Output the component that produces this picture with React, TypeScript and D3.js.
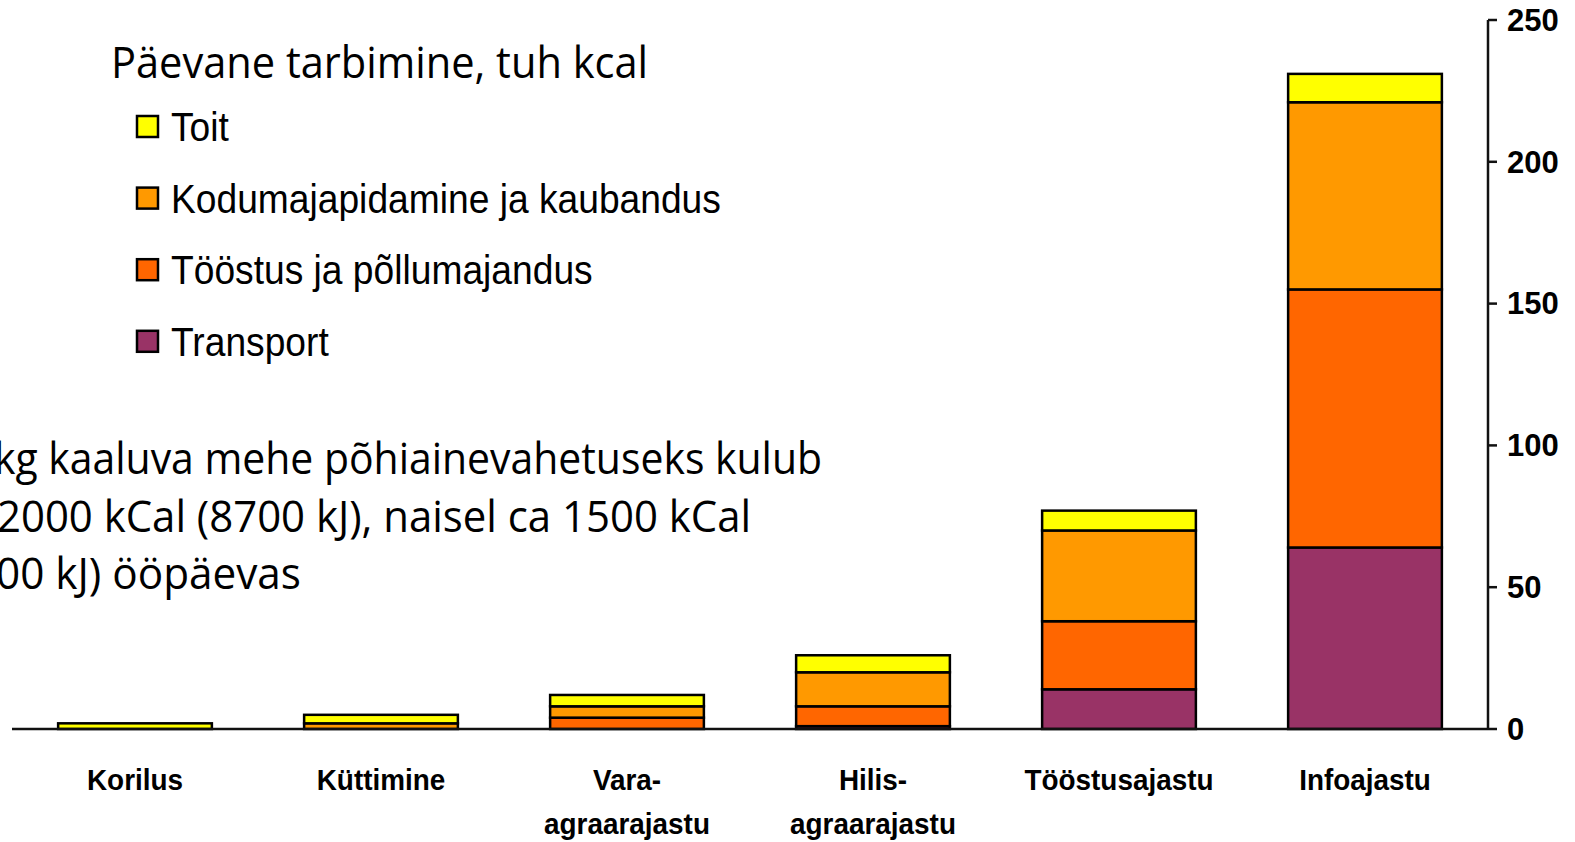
import React, { useRef, useEffect, useCallback } from 'react';
import * as d3 from 'd3';

// values in thousand kcal per day
const categories = ['Korilus', 'Küttimine', 'Vara-agraarajastu', 'Hilis-agraarajastu', 'Tööstusajastu', 'Infoajastu'];
const categoryLines = [['Korilus'], ['Küttimine'], ['Vara-', 'agraarajastu'], ['Hilis-', 'agraarajastu'], ['Tööstusajastu'], ['Infoajastu']];
const seriesNames = ['Transport', 'Tööstus ja põllumajandus', 'Kodumajapidamine ja kaubandus', 'Toit'];
const transport = [0, 0, 0, 1, 14, 64];
const toostus = [0, 0, 4, 7, 24, 91];
const kodu = [0, 2, 4, 12, 32, 66];
const toit = [2, 3, 4, 6, 7, 10];
const yTicks = [0, 50, 100, 150, 200, 250];
const colors = ['#993366', '#FF6600', '#FF9900', '#FFFF00'];
const legendOrder = ['Toit', 'Kodumajapidamine ja kaubandus', 'Tööstus ja põllumajandus', 'Transport'];
const legendTitle = 'Päevane tarbimine, tuh kcal';
const noteLines = [
  { text: 'kg kaaluva mehe põhiainevahetuseks kulub', x0: -6, x1: 822 },
  { text: '2000 kCal (8700 kJ), naisel ca 1500 kCal', x0: -3, x1: 751 },
  { text: '00 kJ) ööpäevas', x0: -4, x1: 301 }
];

const WIDTH = 1575;
const HEIGHT = 842;

const App = () => {
  const svgRef = useRef<SVGSVGElement>(null);

  const draw = useCallback((node: SVGSVGElement) => {
    const svg = d3.select(node);
    svg.selectAll('*').remove();

    const x = d3.scaleBand<string>()
      .domain(categories)
      .range([12, 1488])
      .paddingInner(0.375)
      .paddingOuter(0.1875);
    const y = d3.scaleLinear().domain([0, 250]).range([729, 20]);

    const rows = categories.map((c, i) => ({
      cat: c,
      'Transport': transport[i],
      'Tööstus ja põllumajandus': toostus[i],
      'Kodumajapidamine ja kaubandus': kodu[i],
      'Toit': toit[i]
    }));
    const stacked = d3.stack<any>().keys(seriesNames)(rows);
    const color = d3.scaleOrdinal<string>().domain(seriesNames).range(colors);

    // bars
    const g = svg.append('g');
    stacked.forEach(layer => {
      g.selectAll(null)
        .data(layer.filter(d => d[1] - d[0] > 0))
        .enter()
        .append('rect')
        .attr('x', d => x(d.data.cat) as number)
        .attr('width', x.bandwidth())
        .attr('y', d => y(d[1]))
        .attr('height', d => y(d[0]) - y(d[1]))
        .attr('fill', color(layer.key))
        .attr('stroke', '#000')
        .attr('stroke-width', 2.5);
    });

    // baseline
    svg.append('line')
      .attr('x1', 12).attr('x2', 1488)
      .attr('y1', y(0)).attr('y2', y(0))
      .attr('stroke', '#111').attr('stroke-width', 2.5);

    // right y axis
    const yAxis = svg.append('g').attr('transform', 'translate(1488,0)');
    yAxis.append('line')
      .attr('y1', y(250)).attr('y2', y(0))
      .attr('stroke', '#111').attr('stroke-width', 2.5);
    const tick = yAxis.selectAll('.tick').data(yTicks).enter().append('g')
      .attr('transform', d => `translate(0,${y(d)})`);
    tick.append('line').attr('x2', 9).attr('stroke', '#111').attr('stroke-width', 2.5);
    tick.append('text')
      .attr('x', 19)
      .attr('dy', '0.35em')
      .style('font-family', '"Liberation Sans", Arial, sans-serif')
      .style('font-weight', 700)
      .style('font-size', '31px')
      .text(d => d);

    // category labels
    categories.forEach((c, i) => {
      categoryLines[i].forEach((line, j) => {
        svg.append('text')
          .attr('transform', `translate(${(x(c) as number) + x.bandwidth() / 2},${790 + j * 44}) scale(0.93,1)`)
          .attr('text-anchor', 'middle')
          .style('font-family', '"Liberation Sans", Arial, sans-serif')
          .style('font-weight', 700)
          .style('font-size', '30px')
          .text(line);
      });
    });

    // legend
    svg.append('text')
      .attr('x', 111).attr('y', 78)
      .attr('textLength', 537)
      .attr('lengthAdjust', 'spacingAndGlyphs')
      .style('font-family', '"Open Sans", sans-serif')
      .style('font-size', '43px')
      .text(legendTitle);

    const item = svg.selectAll('.legend').data(legendOrder).enter().append('g')
      .attr('transform', (d, i) => `translate(137,${116 + i * 71.6})`);
    item.append('rect')
      .attr('width', 21).attr('height', 21)
      .attr('fill', d => color(d))
      .attr('stroke', '#000').attr('stroke-width', 2.5);
    item.append('text')
      .attr('transform', 'translate(34,25) scale(0.93,1)')
      .style('font-family', '"Liberation Sans", Arial, sans-serif')
      .style('font-size', '40px')
      .text(d => d);

    // note text, cut at the left edge as in the source slide
    noteLines.forEach((n, i) => {
      svg.append('text')
        .attr('x', n.x0).attr('y', 474 + i * 57.5)
        .attr('textLength', n.x1 - n.x0)
        .attr('lengthAdjust', 'spacingAndGlyphs')
        .style('font-family', '"Open Sans", sans-serif')
        .style('font-size', '43px')
        .text(n.text);
    });
  }, []);

  useEffect(() => {
    if (svgRef.current) draw(svgRef.current);
  }, [draw]);

  return (
    <svg
      ref={svgRef}
      width={WIDTH}
      height={HEIGHT}
      style={{ position: 'absolute', left: 0, top: 0, background: '#fff' }}
    />
  );
};

export default App;
